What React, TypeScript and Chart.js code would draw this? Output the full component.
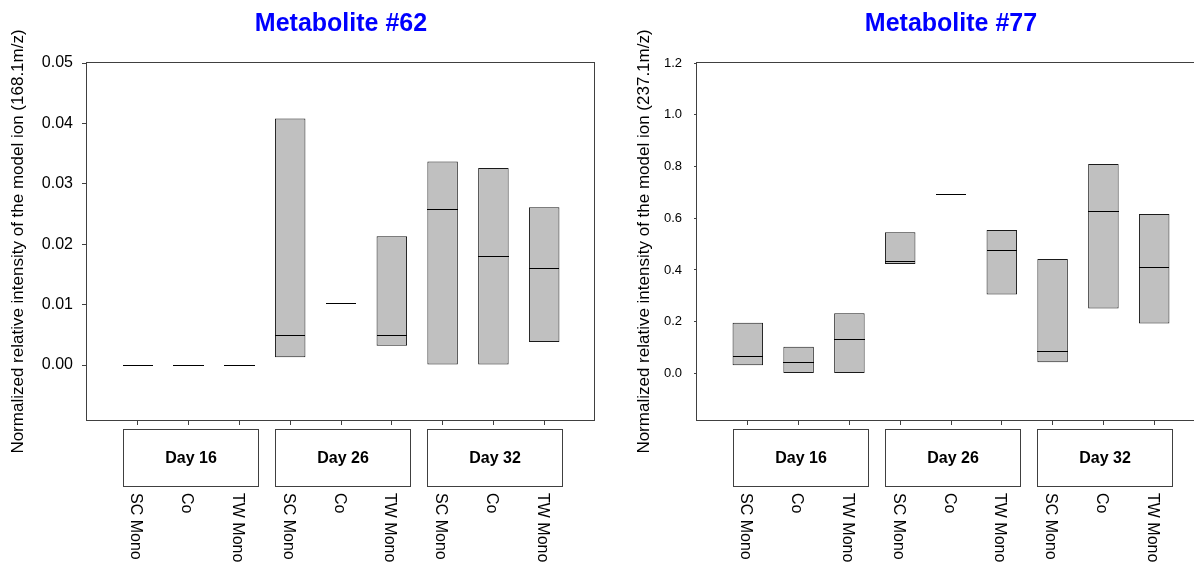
import React, { useEffect, useRef } from "react";
import { Chart, registerables } from "chart.js";

Chart.register(...registerables);

// ---------- data ----------
const categories = ["SC Mono", "Co", "TW Mono", "SC Mono", "Co", "TW Mono", "SC Mono", "Co", "TW Mono"];
const groupLabels = ["Day 16", "Day 26", "Day 32"];
const groupStarts = [0, 3, 6];

const m62Min = [0, 0, 0, 0.0013, 0.0102, 0.0032, 0, 0, 0.0038];
const m62Max = [0, 0, 0, 0.0408, 0.0102, 0.0213, 0.0337, 0.0326, 0.0261];
const m62Median = [0, 0, 0, 0.005, 0.0102, 0.005, 0.0258, 0.018, 0.0161];
const m62Ticks = [0, 0.01, 0.02, 0.03, 0.04, 0.05];

const m77Min = [0.032, 0, 0, 0.423, 0.693, 0.305, 0.043, 0.251, 0.193];
const m77Max = [0.196, 0.103, 0.233, 0.546, 0.693, 0.554, 0.442, 0.81, 0.616];
const m77Median = [0.066, 0.043, 0.135, 0.434, 0.693, 0.477, 0.086, 0.628, 0.411];
const m77Ticks = [0, 0.2, 0.4, 0.6, 0.8, 1.0, 1.2];

const FONT = "'Liberation Sans', Arial, Helvetica, sans-serif";
const FRAME = "#404040";

type PanelCfg = {
  title: string;
  yTitle: string;
  mins: number[];
  maxs: number[];
  medians: number[];
  ticks: number[];
  yMin: number;
  yMax: number;
  decimals: number;
  tickFont: number;
  tickLen: number;
  tickPad: number;
  padLeft: number;
  yWidth: number;
};

const decorPlugin = {
  id: "boxDecor",
  afterDatasetsDraw(chart: any, _args: any, opts: any) {
    const { ctx, chartArea, scales } = chart;
    const meta = chart.getDatasetMeta(0);
    const medians: (number | null)[] = opts.medians;
    ctx.save();
    ctx.strokeStyle = "#000";
    ctx.lineWidth = 1;
    meta.data.forEach((el: any, i: number) => {
      const m = medians[i];
      if (m == null) return;
      const y = Math.round(scales.y.getPixelForValue(m)) + 0.5;
      const { x, width } = el.getProps(["x", "width"], true);
      ctx.beginPath();
      ctx.moveTo(Math.round(x - width / 2), y);
      ctx.lineTo(Math.round(x + width / 2), y);
      ctx.stroke();
    });
    // frame
    ctx.strokeStyle = FRAME;
    const l = Math.round(chartArea.left) - 0.5;
    const t = Math.round(chartArea.top) - 0.5;
    const r = Math.round(chartArea.right) - 0.5;
    const b = Math.round(chartArea.bottom) + 0.5;
    ctx.strokeRect(l, t, r - l, b - t);
    ctx.restore();
  },
  afterDraw(chart: any, _args: any, opts: any) {
    const { ctx, chartArea, scales } = chart;
    const xs = scales.x;
    const bottom = Math.round(chartArea.bottom);
    ctx.save();
    // group boxes
    (opts.groupStarts as number[]).forEach((start, gi) => {
      const first = start + 1;
      const last = start + 3;
      const x1 = Math.round(xs.getPixelForValue(first - 0.3)) + 0.5;
      const x2 = Math.round(xs.getPixelForValue(last + 0.36)) + 0.5;
      const y1 = bottom + 9 + 0.5;
      const y2 = bottom + 66 + 0.5;
      ctx.strokeStyle = FRAME;
      ctx.lineWidth = 1;
      ctx.strokeRect(x1, y1, x2 - x1, y2 - y1);
      ctx.fillStyle = "#000";
      ctx.font = `bold 16px ${FONT}`;
      ctx.textAlign = "center";
      ctx.textBaseline = "middle";
      ctx.fillText(opts.groupLabels[gi], (x1 + x2) / 2, (y1 + y2) / 2 + 1);
    });
    // rotated category labels
    ctx.font = `16px ${FONT}`;
    ctx.fillStyle = "#000";
    ctx.textAlign = "left";
    ctx.textBaseline = "middle";
    (opts.categories as string[]).forEach((lab, i) => {
      const x = xs.getPixelForValue(i + 1);
      ctx.save();
      ctx.translate(x - 2, bottom + 73);
      ctx.rotate(Math.PI / 2);
      ctx.fillText(lab, 0, 0);
      ctx.restore();
    });
    ctx.restore();
  },
};

function buildConfig(cfg: PanelCfg): any {
  const labels = ["", ...categories, ""];
  const data = [null, ...categories.map((_, i) => [cfg.mins[i], cfg.maxs[i]]), null];
  const medians = [null, ...cfg.medians, null];
  const n = labels.length;
  return {
    type: "bar",
    data: {
      labels,
      datasets: [
        {
          data,
          backgroundColor: "#c0c0c0",
          borderColor: "#1a1a1a",
          borderWidth: 1,
          borderSkipped: false,
          barPercentage: 0.6,
          categoryPercentage: 1,
        },
      ],
    },
    plugins: [decorPlugin],
    options: {
      animation: false,
      responsive: false,
      devicePixelRatio: 1,
      layout: { padding: { left: cfg.padLeft, right: 5, top: 0, bottom: 0 } },
      plugins: {
        legend: { display: false },
        tooltip: { enabled: false },
        title: {
          display: true,
          text: cfg.title,
          color: "#0000ff",
          fullSize: false,
          font: { family: FONT, size: 25, weight: "bold", lineHeight: 1.2 },
          padding: { top: 9, bottom: 24 },
        },
        boxDecor: { medians, categories, groupLabels, groupStarts },
      },
      scales: {
        x: {
          type: "category",
          offset: false,
          border: { display: false },
          grid: {
            display: true,
            offset: false,
            drawOnChartArea: false,
            drawTicks: true,
            tickLength: 5,
            tickWidth: 1,
            tickColor: (c: any) => (c.index === 0 || c.index === n - 1 ? "rgba(0,0,0,0)" : FRAME),
          },
          ticks: { display: false },
          afterFit: (s: any) => {
            s.height = 200;
          },
        },
        y: {
          type: "linear",
          min: cfg.yMin,
          max: cfg.yMax,
          border: { display: false },
          grid: {
            display: true,
            drawOnChartArea: false,
            drawTicks: true,
            tickLength: cfg.tickLen,
            tickColor: FRAME,
          },
          afterBuildTicks: (s: any) => {
            s.ticks = cfg.ticks.map((v) => ({ value: v }));
          },
          ticks: {
            color: "#000",
            padding: cfg.tickPad,
            font: { family: FONT, size: cfg.tickFont },
            callback: (v: any) => Number(v).toFixed(cfg.decimals),
          },
          title: {
            display: true,
            text: cfg.yTitle,
            color: "#000",
            font: { family: FONT, size: 17, lineHeight: 1.2 },
            padding: { top: 8, bottom: 0 },
          },
          afterFit: (s: any) => {
            s.width = cfg.yWidth;
          },
        },
      },
    },
  };
}

function Panel({ cfg, left, width }: { cfg: PanelCfg; left: number; width: number }) {
  const ref = useRef<HTMLCanvasElement>(null);
  useEffect(() => {
    const chart = new Chart(ref.current as HTMLCanvasElement, buildConfig(cfg));
    return () => chart.destroy();
  }, []);
  return (
    <div style={{ position: "absolute", left, top: 0, width, height: 620 }}>
      <canvas ref={ref} width={width} height={620} style={{ display: "block", width, height: 620 }} />
    </div>
  );
}

const leftCfg: PanelCfg = {
  title: "Metabolite #62",
  yTitle: "Normalized relative intensity of the model ion (168.1m/z)",
  mins: m62Min,
  maxs: m62Max,
  medians: m62Median,
  ticks: m62Ticks,
  yMin: -0.0091,
  yMax: 0.05,
  decimals: 2,
  tickFont: 16,
  tickLen: 5,
  tickPad: 9,
  padLeft: 0,
  yWidth: 87,
};

const rightCfg: PanelCfg = {
  title: "Metabolite #77",
  yTitle: "Normalized relative intensity of the model ion (237.1m/z)",
  mins: m77Min,
  maxs: m77Max,
  medians: m77Median,
  ticks: m77Ticks,
  yMin: -0.18,
  yMax: 1.2,
  decimals: 1,
  tickFont: 13,
  tickLen: 3,
  tickPad: 12,
  padLeft: 26,
  yWidth: 71,
};

export default function App() {
  return (
    <div
      style={{
        position: "fixed",
        left: 0,
        top: 0,
        width: 1194,
        height: 565,
        overflow: "hidden",
        background: "#fff",
      }}
    >
      <Panel cfg={leftCfg} left={0} width={600} />
      <Panel cfg={rightCfg} left={600} width={610} />
    </div>
  );
}
